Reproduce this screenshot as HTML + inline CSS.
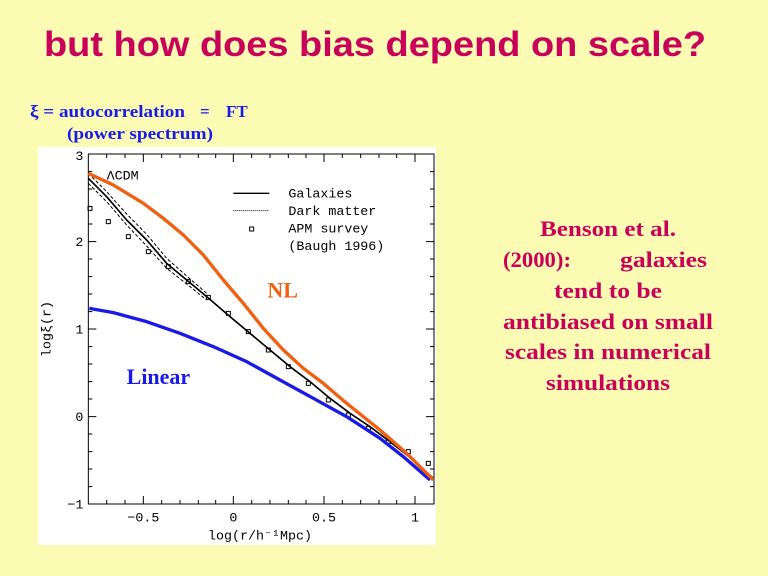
<!DOCTYPE html>
<html><head><meta charset="utf-8"><style>
html,body{margin:0;padding:0;background:#fbfbb4;}
svg{display:block}
</style></head><body>
<svg width="768" height="576" viewBox="0 0 768 576" xmlns="http://www.w3.org/2000/svg">
<rect width="768" height="576" fill="#fbfbb4"/>
<text x="44" y="56" font-family="Liberation Sans, sans-serif" font-weight="bold" font-size="35" fill="#c8005a" textLength="662" lengthAdjust="spacingAndGlyphs">but how does bias depend on scale?</text>
<g font-family="Liberation Serif, serif" font-weight="bold" font-size="17" fill="#1a1ae6">
<text x="30" y="117" textLength="155" lengthAdjust="spacingAndGlyphs">ξ = autocorrelation</text>
<text x="200" y="117">=</text>
<text x="226" y="117">FT</text>
<text x="67" y="139" textLength="146" lengthAdjust="spacingAndGlyphs">(power spectrum)</text>
</g>
<g font-family="Liberation Serif, serif" font-weight="bold" font-size="22" fill="#c8005a" lengthAdjust="spacingAndGlyphs">
<text x="540" y="236" textLength="136" lengthAdjust="spacingAndGlyphs">Benson et al.</text>
<text x="503" y="267" textLength="68" lengthAdjust="spacingAndGlyphs">(2000):</text>
<text x="620" y="267" textLength="87" lengthAdjust="spacingAndGlyphs">galaxies</text>
<text x="554" y="298" textLength="108" lengthAdjust="spacingAndGlyphs">tend to be</text>
<text x="503" y="329" textLength="210" lengthAdjust="spacingAndGlyphs">antibiased on small</text>
<text x="505" y="359" textLength="206" lengthAdjust="spacingAndGlyphs">scales in numerical</text>
<text x="546" y="390" textLength="124" lengthAdjust="spacingAndGlyphs">simulations</text>
</g>
<rect x="38" y="147" width="398" height="398" fill="#ffffff"/>
<g transform="translate(30,140) scale(0.33333)" fill="none" stroke-linejoin="round">
<rect x="175" y="42" width="1037" height="1050" stroke="#000" stroke-width="3"/>
<g stroke="#000" stroke-width="3">
<path d="M340 42v24M610 42v24M882 42v24M1155 42v24M340 1092v-24M610 1092v-24M882 1092v-24M1155 1092v-24"/>
<path d="M230 42v12M285 42v12M395 42v12M450 42v12M505 42v12M557 42v12M665 42v12M720 42v12M775 42v12M828 42v12M937 42v12M992 42v12M1047 42v12M1100 42v12
M230 1092v-12M285 1092v-12M395 1092v-12M450 1092v-12M505 1092v-12M557 1092v-12M665 1092v-12M720 1092v-12M775 1092v-12M828 1092v-12M937 1092v-12M992 1092v-12M1047 1092v-12M1100 1092v-12"/>
<path d="M175 305h24M175 567h24M175 830h24M1212 305h-24M1212 567h-24M1212 830h-24"/>
<path d="M175 95h12M175 147h12M175 200h12M175 252h12M175 357h12M175 410h12M175 462h12M175 515h12M175 620h12M175 672h12M175 725h12M175 777h12M175 882h12M175 935h12M175 987h12M175 1040h12
M1212 95h-12M1212 147h-12M1212 200h-12M1212 252h-12M1212 357h-12M1212 410h-12M1212 462h-12M1212 515h-12M1212 620h-12M1212 672h-12M1212 725h-12M1212 777h-12M1212 882h-12M1212 935h-12M1212 987h-12M1212 1040h-12"/>
</g>
<g font-family="Liberation Mono, monospace" font-size="40" fill="#000" stroke="none">
<text x="160" y="60" text-anchor="end">3</text>
<text x="160" y="318" text-anchor="end">2</text>
<text x="160" y="580" text-anchor="end">1</text>
<text x="160" y="843" text-anchor="end">0</text>
<text x="160" y="1105" text-anchor="end">−1</text>
<text x="340" y="1145" text-anchor="middle">−0.5</text>
<text x="610" y="1145" text-anchor="middle">0</text>
<text x="882" y="1145" text-anchor="middle">0.5</text>
<text x="1155" y="1145" text-anchor="middle">1</text>
<text x="690" y="1198" text-anchor="middle">log(r/h⁻¹Mpc)</text>
<text transform="translate(62,567) rotate(-90)" text-anchor="middle">logξ(r)</text>
<text x="230" y="118">ΛCDM</text>
<text x="775" y="172">Galaxies</text>
<text x="775" y="225">Dark matter</text>
<text x="775" y="278">APM survey</text>
<text x="775" y="330">(Baugh 1996)</text>
</g>
<path d="M610 160h108" stroke="#000" stroke-width="4"/>
<path d="M610 212h108" stroke="#000" stroke-width="3" stroke-dasharray="3 3"/>
<rect x="659" y="261" width="12" height="12" stroke="#000" stroke-width="3"/>
<g stroke="#000" stroke-width="3">
<polyline stroke-dasharray="10 6" points="175,100 230,155 290,222 350,283 410,355 470,408 530,460"/>
<polyline stroke-dasharray="10 6" points="175,130 230,185 290,255 350,318 410,385 470,432 530,480"/>
<polyline stroke-width="5" points="175,115 230,170 290,240 350,300 410,370 470,420 530,470 600,530 660,580 720,630 780,680 840,725 900,775 960,820 1020,860 1080,905 1150,960 1210,1015"/>
</g>
<g stroke="#000" stroke-width="3">
<rect x="174" y="199" width="12" height="12"/><rect x="229" y="239" width="12" height="12"/><rect x="289" y="284" width="12" height="12"/><rect x="349" y="329" width="12" height="12"/><rect x="409" y="374" width="12" height="12"/><rect x="469" y="419" width="12" height="12"/><rect x="529" y="466" width="12" height="12"/><rect x="589" y="514" width="12" height="12"/><rect x="649" y="569" width="12" height="12"/><rect x="709" y="624" width="12" height="12"/><rect x="769" y="674" width="12" height="12"/><rect x="829" y="724" width="12" height="12"/><rect x="889" y="774" width="12" height="12"/><rect x="949" y="819" width="12" height="12"/><rect x="1009" y="859" width="12" height="12"/><rect x="1069" y="899" width="12" height="12"/><rect x="1129" y="929" width="12" height="12"/><rect x="1189" y="964" width="12" height="12"/>
</g>
<polyline stroke="#1a1ae6" stroke-width="10" points="178,505 250,518 350,545 450,580 550,620 650,665 750,720 850,775 950,830 1050,895 1120,950 1200,1020"/>
<polyline stroke="#f06010" stroke-width="10" points="175,100 250,135 340,190 400,235 460,285 520,345 580,420 640,490 700,565 760,630 820,685 880,730 950,790 1050,870 1130,940 1210,1020"/>
<text x="712" y="472" font-family="Liberation Serif, serif" font-weight="bold" font-size="66" fill="#f06010" stroke="none">NL</text>
<text x="290" y="732" font-family="Liberation Serif, serif" font-weight="bold" font-size="66" fill="#1a1ae6" stroke="none">Linear</text>
</g>
</svg>
</body></html>
